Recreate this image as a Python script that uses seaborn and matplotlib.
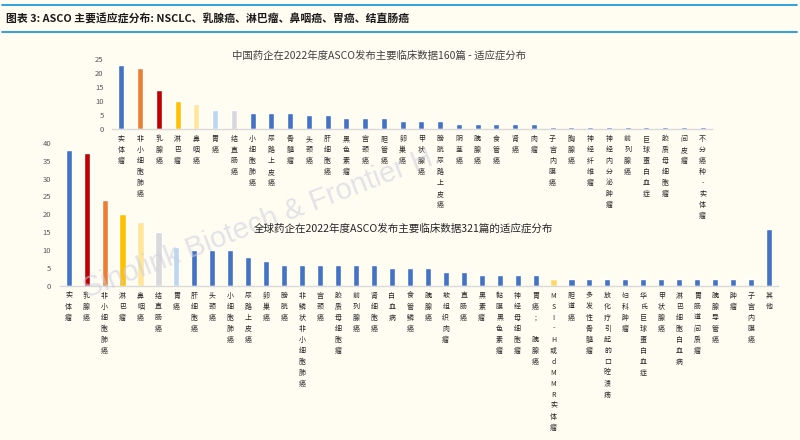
import matplotlib
matplotlib.use("Agg")
import matplotlib.pyplot as plt
import seaborn as sns
import pandas as pd
from matplotlib.lines import Line2D

# ---------------- data ----------------
cn_title = "中国药企在2022年度ASCO发布主要临床数据160篇 - 适应症分布"
cn_cats = ["实体瘤", "非小细胞肺癌", "乳腺癌", "淋巴瘤", "鼻咽癌", "胃癌", "结直肠癌",
           "小细胞肺癌", "尿路上皮癌", "骨髓瘤", "头颈癌", "肝细胞癌", "黑色素瘤", "宫颈癌",
           "胆管癌", "卵巢癌", "甲状腺癌", "膀胱尿路上皮癌", "阴茎癌", "胰腺癌", "食管癌",
           "肾癌", "肉瘤", "子宫内膜癌", "胸腺癌", "神经纤维瘤", "神经内分泌肿瘤", "前列腺癌",
           "巨球蛋白血症", "胶质母细胞瘤", "间皮瘤", "不分癌种-实体瘤"]
cn_vals = [23, 22, 14, 10, 9, 7, 7, 6, 6, 6, 5, 5, 4, 4, 4, 3, 3, 3, 2, 2, 2, 2, 2,
           1, 1, 1, 1, 1, 1, 1, 1, 1]

gl_title = "全球药企在2022年度ASCO发布主要临床数据321篇的适应症分布"
gl_cats = ["实体瘤", "乳腺癌", "非小细胞肺癌", "淋巴瘤", "鼻咽癌", "结直肠癌", "胃癌",
           "肝细胞癌", "头颈癌", "小细胞肺癌", "尿路上皮癌", "卵巢癌", "膀胱癌",
           "非鳞状非小细胞肺癌", "宫颈癌", "胶质母细胞瘤", "前列腺癌", "肾细胞癌", "白血病",
           "食管鳞癌", "胰腺癌", "软组织肉瘤", "直肠癌", "黑素瘤", "黏膜黑色素瘤",
           "神经母细胞瘤", "胃癌; 胰腺癌", "MSI-H或dMMR实体瘤", "胆道癌", "多发性骨髓瘤",
           "放化疗引起的口腔溃疡", "妇科肿瘤", "华氏巨球蛋白血症", "甲状腺癌",
           "淋巴细胞白血病", "胃肠道间质瘤", "胰腺导管癌", "肿瘤", "子宫内膜癌", "其他"]
gl_vals = [38, 37, 24, 20, 18, 15, 11, 10, 10, 10, 8, 7, 6, 6, 6, 6, 6, 6, 5, 5, 5,
           4, 4, 3, 3, 3, 3, 2, 2, 2, 2, 2, 2, 2, 2, 2, 2, 2, 2, 16]

header = "图表 3: ASCO 主要适应症分布: NSCLC、乳腺癌、淋巴瘤、鼻咽癌、胃癌、结直肠癌"

# ---------------- style ----------------
BLUE = "#4472C4"
special = {"实体瘤": "#4472C4", "非小细胞肺癌": "#ED7D31", "乳腺癌": "#C00000",
           "淋巴瘤": "#FFC000", "鼻咽癌": "#FFE699", "胃癌": "#BDD7EE",
           "结直肠癌": "#D9D9D9", "MSI-H或dMMR实体瘤": "#FFD966"}

sns.set_theme(style="white")
plt.rcParams["font.family"] = ["Noto Sans CJK SC", "DejaVu Sans"]
BG = "#FFFCF2"

fig = plt.figure(figsize=(8, 4.4), dpi=100, facecolor=BG)

def px(x0, y0, x1, y1):
    # image pixel box -> figure fraction rect
    return [x0 / 800, 1 - y1 / 440, (x1 - x0) / 800, (y1 - y0) / 440]

def draw(ax, cats, vals, ymax, width):
    df = pd.DataFrame({"cat": cats, "val": vals})
    pal = {c: special.get(c, BLUE) for c in cats}
    sns.barplot(data=df, x="cat", y="val", hue="cat", palette=pal, dodge=False,
                width=width, legend=False, ax=ax, saturation=1)
    ax.set_facecolor("none")
    ax.set_xlim(-0.5, len(cats) - 0.5)
    ax.set_ylim(0, ymax)
    ax.set_yticks(range(0, ymax + 1, 5))
    ax.set_xticks(range(len(cats)))
    ax.set_xticklabels(["\n".join(list(c)) for c in cats], fontsize=5, linespacing=1.5,
                       color="#262626")
    ax.tick_params(axis="x", length=0, pad=4)
    ax.tick_params(axis="y", length=0, pad=6, labelsize=5.5, labelcolor="#595959")
    ax.set_xlabel("")
    ax.set_ylabel("")
    for s in ["top", "right", "left"]:
        ax.spines[s].set_visible(False)
    ax.spines["bottom"].set_color("#D9D9D9")
    ax.spines["bottom"].set_linewidth(1)

# watermark
fig.text(262 / 800, 1 - 222 / 440, "Sinolink Biotech & Frontier H.", fontsize=21,
         family="Liberation Sans", color="#C9CFDF", alpha=0.55, rotation=21,
         ha="center", va="center", zorder=0)

ax_b = fig.add_axes(px(59.7, 142.7, 778, 286))
draw(ax_b, gl_cats, gl_vals, 40, 0.34)

ax_t = fig.add_axes(px(112, 59.3, 712, 129.3))
draw(ax_t, cn_cats, cn_vals, 25, 0.33)

fig.text(379 / 800, 1 - 56 / 440, cn_title, fontsize=7.5, color="#404040",
         ha="center", va="center")
fig.text(403 / 800, 1 - 229 / 440, gl_title, fontsize=7.6, color="#262626",
         ha="center", va="center")

# header
fig.text(6 / 800, 1 - 18 / 440, header, fontsize=7.8, fontweight="bold", color="#1a1a1a",
         ha="left", va="center")
for yy in (5, 32):
    fig.add_artist(Line2D([2 / 800, 797 / 800], [1 - yy / 440] * 2, color="#1E9BDB",
                          linewidth=1.3, transform=fig.transFigure))

fig.savefig("out.png", dpi=100, facecolor=BG)
